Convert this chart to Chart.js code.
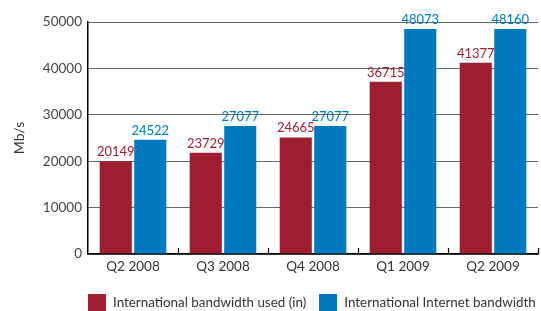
<!DOCTYPE html>
<html><head><meta charset="utf-8">
<script src="https://cdn.jsdelivr.net/npm/chart.js@4/dist/chart.umd.min.js"></script>
<style>
html,body{margin:0;padding:0;background:#fff;}
#wrap{position:relative;width:541px;height:311px;}
#legend{position:absolute;left:88px;top:294px;height:17px;font:13.4px Lato,sans-serif;color:#333;white-space:nowrap;}
#legend span.box{display:inline-block;width:18px;height:17px;vertical-align:top;}
#legend span.txt{display:inline-block;vertical-align:top;line-height:17px;margin-left:7px;}
</style></head><body>
<div id="wrap"><canvas id="c" width="541" height="311"></canvas>
<div id="legend"></div></div>
<script>
const categories = ["Q2 2008","Q3 2008","Q4 2008","Q1 2009","Q2 2009"];
const seriesNames = ["International bandwidth used (in)","International Internet bandwidth"];
const usedValues = [20000, 21800, 25100, 37100, 41200];
const internetValues = [24600, 27600, 27600, 48500, 48500];
const usedLabels = ["20149","23729","24665","36715","41377"];
const internetLabels = ["24522","27077","27077","48073","48160"];
const yTicks = [0,10000,20000,30000,40000,50000];
const colors = ["#9c1e30","#0079c1"];

const lg = document.getElementById('legend');
seriesNames.forEach((n,i)=>{
  const b=document.createElement('span');b.className='box';b.style.background=colors[i];
  if(i>0) b.style.marginLeft='13px';
  const t=document.createElement('span');t.className='txt';t.textContent=n;
  lg.appendChild(b);lg.appendChild(t);
});

const labelsPlugin = {
  id:'barLabels',
  afterDatasetsDraw(chart){
    const ctx=chart.ctx;
    const lbls=[usedLabels,internetLabels];
    ctx.save();
    ctx.font='13px Lato, sans-serif';
    ctx.textAlign='center';ctx.textBaseline='bottom';
    chart.data.datasets.forEach((ds,di)=>{
      const meta=chart.getDatasetMeta(di);
      ctx.fillStyle=colors[di];
      meta.data.forEach((el,i)=>{ ctx.fillText(lbls[di][i], el.x, el.y-3); });
    });
    const ca=chart.chartArea;
    ctx.strokeStyle='#000';ctx.lineWidth=1.2;
    const w=(ca.right-ca.left)/categories.length;
    for(let i=1;i<=categories.length;i++){
      const x=Math.round(ca.left+w*i)+0.5;
      ctx.beginPath();ctx.moveTo(x,ca.bottom);ctx.lineTo(x,ca.bottom-6);ctx.stroke();
    }
    ctx.restore();
  }
};

new Chart(document.getElementById('c'),{
  type:'bar',
  data:{labels:categories,datasets:[
    {label:seriesNames[0],data:usedValues,backgroundColor:colors[0],categoryPercentage:0.767,barPercentage:0.93},
    {label:seriesNames[1],data:internetValues,backgroundColor:colors[1],categoryPercentage:0.767,barPercentage:0.93}
  ]},
  options:{
    responsive:false,animation:false,
    layout:{padding:{top:22,right:3,left:0,bottom:0}},
    plugins:{legend:{display:false},tooltip:{enabled:false}},
    scales:{
      x:{
        grid:{display:false,drawTicks:false},
        border:{color:'#000',width:1.5},
        ticks:{color:'#333',font:{family:'Lato',size:13.5},padding:5},
        afterFit(s){s.height=57;}
      },
      y:{
        min:0,max:50000,
        afterBuildTicks(s){s.ticks=yTicks.map(v=>({value:v}));},
        grid:{color:'#666',lineWidth:1,drawTicks:false},
        border:{color:'#000',width:1.5},
        ticks:{color:'#444',font:{family:'Lato',size:13.5},padding:6,callback:v=>String(v)},
        title:{display:true,text:'Mb/s',color:'#333',font:{family:'Lato',size:14},padding:{top:11,bottom:0}},
        afterFit(s){s.width=88;}
      }
    }
  },
  plugins:[labelsPlugin]
});
</script>
</body></html>
